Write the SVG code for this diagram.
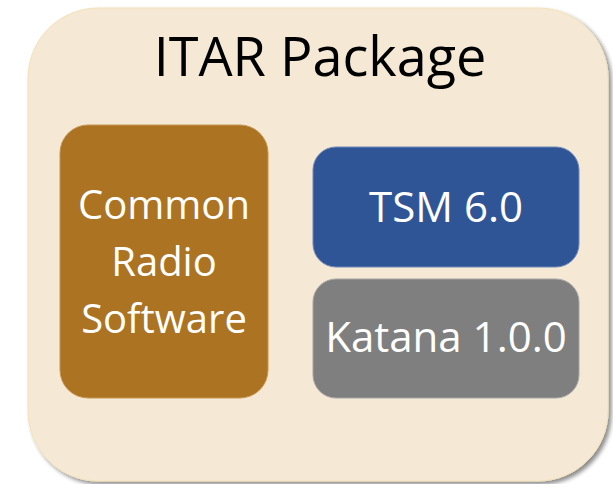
<svg xmlns="http://www.w3.org/2000/svg" width="613" height="484" viewBox="0 0 613 484">
  <style>
    .lbl { font-family: "Open Sans", "Noto Sans", sans-serif; fill: #ffffff; text-anchor: middle; }
    .title { font-family: "Open Sans", "Noto Sans", sans-serif; fill: #000000; text-anchor: middle; font-size: 54px; }
  </style>
  <defs>
    <filter id="shadow" x="-10%" y="-10%" width="130%" height="130%">
      <feGaussianBlur in="SourceAlpha" stdDeviation="2"/>
      <feOffset dx="3" dy="3" result="b"/>
      <feComponentTransfer><feFuncA type="linear" slope="0.45"/></feComponentTransfer>
      <feMerge><feMergeNode/><feMergeNode in="SourceGraphic"/></feMerge>
    </filter>
  </defs>
  <rect width="613" height="484" fill="#ffffff"/>
  <g id="itar-package">
    <rect x="28" y="8" width="580" height="473" rx="70" ry="70" fill="#F5E8D5" stroke="#F3E2B8" stroke-width="1" filter="url(#shadow)"/>
    <text class="title" x="320" y="76">ITAR Package</text>
  </g>
  <g id="common-radio-software">
    <rect x="60" y="125" width="208" height="273" rx="28" ry="28" fill="#AB7322" stroke="#C49650" stroke-width="1"/>
    <text class="lbl" x="164" y="219" font-size="40">Common</text>
    <text class="lbl" x="164" y="276" font-size="40">Radio</text>
    <text class="lbl" x="164" y="333" font-size="40">Software</text>
  </g>
  <g id="tsm">
    <rect x="313" y="147" width="266" height="120" rx="23" ry="23" fill="#2F5597" stroke="#6E88B8" stroke-width="1"/>
    <text class="lbl" x="446" y="222" font-size="42">TSM 6.0</text>
  </g>
  <g id="katana">
    <rect x="313" y="279" width="266" height="119" rx="23" ry="23" fill="#7F7F7F" stroke="#A5A5A5" stroke-width="1"/>
    <text class="lbl" x="446" y="352" font-size="42">Katana 1.0.0</text>
  </g>
  <g id="connectors"/>
</svg>
